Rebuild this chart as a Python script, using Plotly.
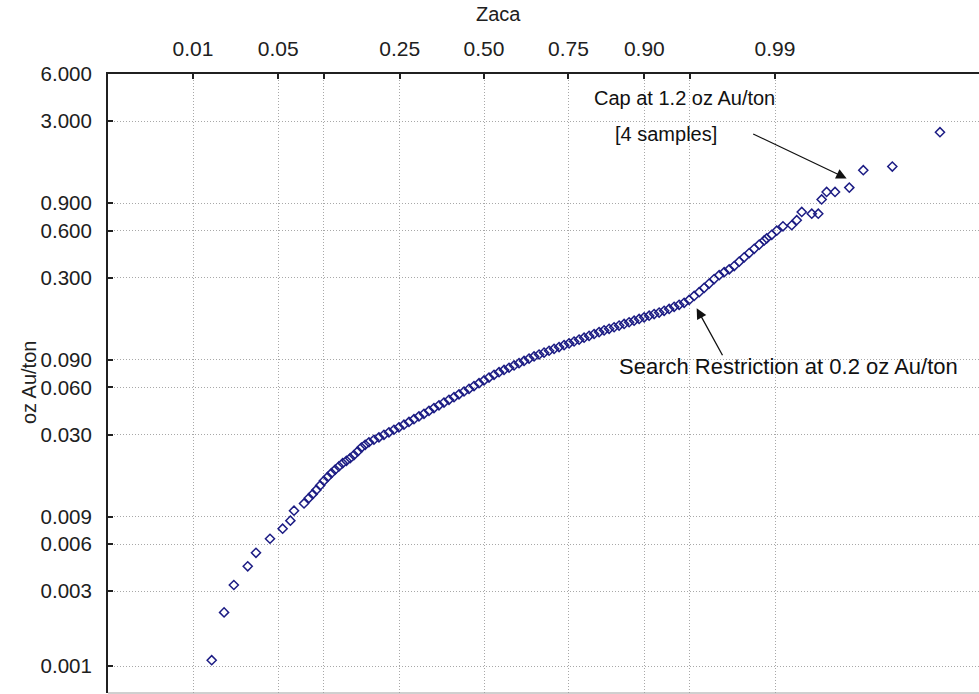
import plotly.graph_objects as go
from statistics import NormalDist
import math

# Expected normal scores (x) and gold grades in oz Au/ton (y), in rank order
normal_score = [
    -2.177, -2.078, -2.000, -1.889, -1.823, -1.711, -1.610, -1.548, -1.519, -1.439,
    -1.40, -1.37, -1.34, -1.31, -1.28, -1.25, -1.22, -1.19, -1.16, -1.13,
    -1.10, -1.07, -1.04, -1.01, -0.98, -0.95,
    -0.92, -0.88, -0.84, -0.80, -0.76, -0.72, -0.68, -0.64, -0.60, -0.56,
    -0.52, -0.48, -0.44, -0.40, -0.36, -0.32, -0.28, -0.24, -0.20, -0.16,
    -0.12, -0.08, -0.04, 0.00, 0.04, 0.08, 0.12, 0.16, 0.20, 0.24,
    0.28, 0.32, 0.36, 0.40, 0.44, 0.48, 0.52, 0.56, 0.60, 0.64,
    0.68, 0.72, 0.76, 0.80, 0.84, 0.88, 0.92, 0.96, 1.00, 1.04,
    1.08, 1.12, 1.16, 1.20, 1.24, 1.28, 1.32, 1.36, 1.40, 1.44,
    1.48, 1.52, 1.56, 1.60, 1.64, 1.68, 1.72, 1.76, 1.80, 1.84,
    1.88, 1.92, 1.96, 2.00, 2.04, 2.08, 2.12, 2.16, 2.20, 2.24,
    2.26, 2.30, 2.34, 2.39, 2.46, 2.50, 2.54, 2.62, 2.672, 2.699,
    2.739, 2.806, 2.92, 3.032, 3.264, 3.645,
]
grade = [
    0.00109, 0.0022, 0.00329, 0.00433, 0.00528, 0.00649, 0.00752, 0.00847, 0.0098, 0.0109,
    0.0118, 0.0125, 0.0133, 0.0142, 0.0152, 0.0161, 0.0170, 0.0179, 0.0188, 0.0197,
    0.0204, 0.0212, 0.0222, 0.0234, 0.0248, 0.0258,
    0.0268, 0.0278, 0.0288, 0.0299, 0.0310, 0.0322, 0.0334, 0.0347, 0.0361, 0.0376,
    0.0392, 0.0407, 0.0425, 0.0443, 0.0461, 0.0480, 0.0500, 0.0520, 0.0542, 0.0565,
    0.0587, 0.0612, 0.0638, 0.0665, 0.0693, 0.0722, 0.0750, 0.0775, 0.0801, 0.0828,
    0.0857, 0.0885, 0.0916, 0.0946, 0.0973, 0.1000, 0.1028, 0.1057, 0.1086, 0.1117,
    0.1146, 0.1178, 0.1211, 0.1245, 0.1279, 0.1315, 0.1352, 0.1387, 0.1419, 0.1452,
    0.1489, 0.1524, 0.1563, 0.1600, 0.1641, 0.1679, 0.1722, 0.1762, 0.1803, 0.1849,
    0.190, 0.196, 0.202, 0.208, 0.217, 0.230, 0.243, 0.259, 0.276, 0.295,
    0.312, 0.326, 0.340, 0.357, 0.381, 0.406, 0.432, 0.460, 0.489, 0.520,
    0.536, 0.565, 0.60, 0.64, 0.65, 0.70, 0.79, 0.77, 0.77, 0.95,
    1.06, 1.06, 1.13, 1.46, 1.54, 2.55,
]

# Probability ticks on the top axis (0.10 and 0.95 carry no label)
prob_ticks = [0.01, 0.05, 0.10, 0.25, 0.50, 0.75, 0.90, 0.95, 0.99]
prob_labels = ["0.01", "0.05", "", "0.25", "0.50", "0.75", "0.90", "", "0.99"]

# Grade ticks on the log axis
grade_ticks = [6, 3, 0.9, 0.6, 0.3, 0.09, 0.06, 0.03, 0.009, 0.006, 0.003, 0.001]

nd = NormalDist()
x_tickvals = [nd.inv_cdf(p) for p in prob_ticks]

FONT = "Liberation Sans, Arial, sans-serif"
W, H = 979, 694
L, T, B = 108, 74, 1
plot_w = W - L
plot_h = H - T - B


def px_x(px):
    return (px - L) / plot_w


def px_y(py):
    return (H - B - py) / plot_h


fig = go.Figure()
fig.add_trace(go.Scatter(
    x=normal_score, y=grade, mode="markers",
    marker=dict(symbol="diamond-open", size=7, color="#1c1c84",
                line=dict(width=1.5, color="#1c1c84")),
    showlegend=False, hoverinfo="x+y",
))

grid = dict(showgrid=True, gridcolor="#a8a8a8", griddash="1px,2px", gridwidth=1)

fig.update_layout(
    width=W, height=H,
    margin=dict(l=L, r=0, t=T, b=B, pad=0),
    paper_bgcolor="white", plot_bgcolor="white",
    font=dict(family=FONT, size=21, color="#202020"),
    xaxis=dict(
        side="top", range=[-3.006, 3.957],
        tickmode="array", tickvals=x_tickvals, ticktext=prob_labels,
        ticks="inside", ticklen=5, tickwidth=1.5, tickcolor="#202020",
        showline=True, linecolor="#202020", linewidth=2,
        zeroline=False, ticklabelstandoff=8,
        tickfont=dict(size=21), **grid,
    ),
    yaxis=dict(
        type="log", range=[math.log10(6) - plot_h / 156.7, math.log10(6)],
        tickmode="array", tickvals=grade_ticks,
        ticktext=[f"{v:.3f}" for v in grade_ticks],
        ticks="inside", ticklen=5, tickwidth=1.5, tickcolor="#202020",
        showline=True, linecolor="#202020", linewidth=2,
        zeroline=False, ticklabelstandoff=10,
        tickfont=dict(size=20.5), **grid,
    ),
)

# bottom frame line
fig.add_shape(type="line", xref="paper", yref="paper", x0=0, x1=1, y0=0, y1=0,
              line=dict(color="#a0a0a0", width=1))

# axis titles
fig.add_annotation(text="Zaca", xref="paper", yref="paper",
                   x=px_x(498), y=px_y(14), showarrow=False,
                   font=dict(size=20, color="#202020"), xanchor="center", yanchor="middle")
fig.add_annotation(text="oz Au/ton", xref="paper", yref="paper",
                   x=px_x(29), y=px_y(383), showarrow=False, textangle=-90,
                   font=dict(size=20, color="#202020"), xanchor="center", yanchor="middle")

# callouts
fig.add_annotation(text="Cap at 1.2 oz Au/ton", xref="paper", yref="paper",
                   x=px_x(684), y=px_y(98), showarrow=False,
                   font=dict(size=20, color="#111111"), xanchor="center", yanchor="middle")
fig.add_annotation(text="[4 samples]", xref="paper", yref="paper",
                   x=px_x(666), y=px_y(134), showarrow=False,
                   font=dict(size=20, color="#111111"), xanchor="center", yanchor="middle")
fig.add_annotation(text="Search Restriction at 0.2 oz Au/ton", xref="paper", yref="paper",
                   x=px_x(617), y=px_y(367), showarrow=False,
                   font=dict(size=22, color="#111111"), xanchor="left", yanchor="middle")

# arrows
fig.add_annotation(x=2.899, y=0.112, ax=2.140, ay=0.400, xref="x", yref="y",
                   axref="x", ayref="y", text="", showarrow=True,
                   arrowhead=2, arrowsize=1.6, arrowwidth=1.3, arrowcolor="#111111")
fig.add_annotation(x=1.700, y=-0.717, ax=1.913, ay=-1.026, xref="x", yref="y",
                   axref="x", ayref="y", text="", showarrow=True,
                   arrowhead=2, arrowsize=1.6, arrowwidth=1.3, arrowcolor="#111111")

fig.write_html("out.html")
